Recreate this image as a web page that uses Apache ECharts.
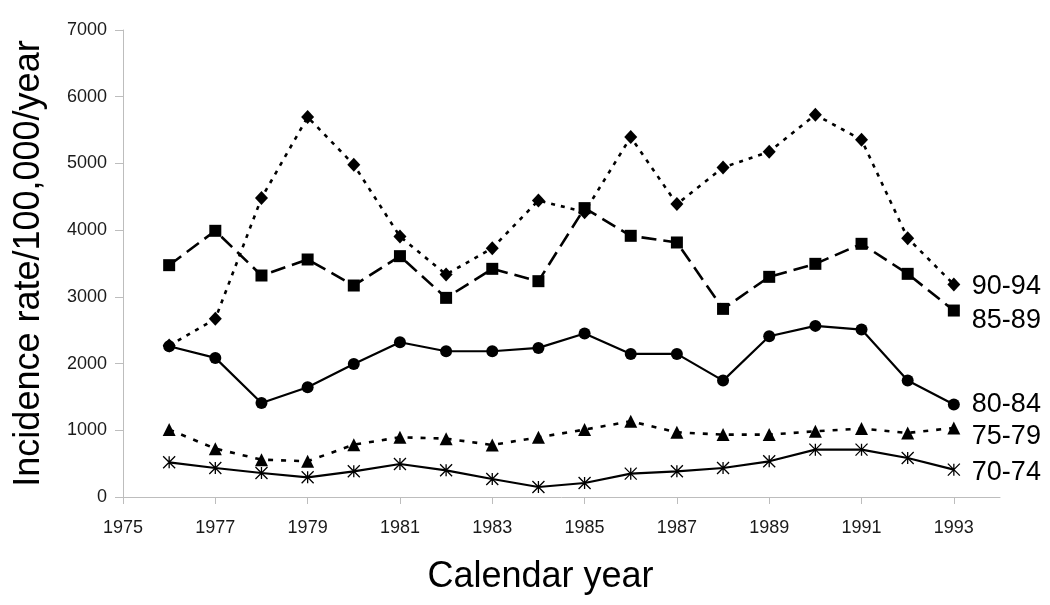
<!DOCTYPE html>
<html>
<head>
<meta charset="utf-8">
<script src="https://cdn.jsdelivr.net/npm/echarts@6/dist/echarts.min.js"></script>
<style>
  html, body { margin: 0; padding: 0; background: #fff; }
  #chart { width: 1050px; height: 605px; }
</style>
</head>
<body>
<div id="chart"></div>
<script>
const years = [1976, 1977, 1978, 1979, 1980, 1981, 1982, 1983, 1984, 1985, 1986, 1987, 1988, 1989, 1990, 1991, 1992, 1993];
const tickYears = [1975, 1977, 1979, 1981, 1983, 1985, 1987, 1989, 1991, 1993];
const rate9094 = [2270, 2670, 4480, 5695, 4980, 3905, 3335, 3730, 4445, 4270, 5395, 4390, 4940, 5175, 5730, 5355, 3880, 3185];
const rate8589 = [3475, 3990, 3320, 3560, 3170, 3610, 2985, 3420, 3235, 4330, 3915, 3815, 2820, 3300, 3495, 3795, 3345, 2795];
const rate8084 = [2260, 2085, 1410, 1645, 1995, 2320, 2185, 2185, 2235, 2450, 2145, 2145, 1745, 2410, 2565, 2510, 1745, 1385];
const rate7579 = [1010, 725, 560, 535, 785, 895, 875, 780, 895, 1010, 1135, 970, 935, 935, 985, 1025, 960, 1035];
const rate7074 = [520, 435, 360, 295, 385, 495, 400, 270, 150, 210, 350, 385, 435, 535, 710, 710, 585, 410];

const FONT = '"Liberation Sans", Arial, Helvetica, sans-serif';
const pairs = arr => years.map((y, i) => [y, arr[i]]);

function mkSeries(name, values, symbol, size, lineType, width, labelDy, itemStyle) {
  return {
    name: name,
    type: 'line',
    data: pairs(values),
    symbol: symbol,
    symbolSize: size,
    showAllSymbol: true,
    lineStyle: { color: '#000', width: width, type: lineType, cap: 'butt' },
    itemStyle: itemStyle || { color: '#000' },
    emphasis: { disabled: true },
    endLabel: {
      show: true,
      formatter: name,
      color: '#000',
      fontFamily: FONT,
      fontSize: 27,
      distance: 18,
      offset: [0, labelDy]
    }
  };
}

const chart = echarts.init(document.getElementById('chart'), null, { renderer: 'canvas' });
chart.setOption({
  animation: false,
  backgroundColor: '#fff',
  grid: { left: 123, right: 50, top: 30, bottom: 108, containLabel: false },
  xAxis: {
    type: 'value',
    min: 1975,
    max: 1994,
    name: 'Calendar year',
    nameLocation: 'middle',
    nameGap: 62,
    nameTextStyle: { fontFamily: FONT, fontSize: 36, color: '#000', padding: [0, 42, 0, 0] },
    splitLine: { show: false },
    axisLine: { show: true, lineStyle: { color: '#bdbdbd', width: 1 } },
    axisTick: { show: true, length: 7, lineStyle: { color: '#bdbdbd' }, customValues: tickYears },
    axisLabel: { fontFamily: FONT, fontSize: 18, color: '#1a1a1a', margin: 22, customValues: tickYears,
      formatter: v => String(v) }
  },
  yAxis: {
    type: 'value',
    min: 0,
    max: 7000,
    interval: 1000,
    name: 'Incidence rate/100,000/year',
    nameLocation: 'middle',
    nameGap: 76,
    nameTextStyle: { fontFamily: FONT, fontSize: 36, color: '#000' },
    splitLine: { show: false },
    axisLine: { show: true, lineStyle: { color: '#bdbdbd', width: 1 } },
    axisTick: { show: true, length: 8, lineStyle: { color: '#bdbdbd' } },
    axisLabel: { fontFamily: FONT, fontSize: 18, color: '#1a1a1a', margin: 16, formatter: v => String(v) }
  },
  series: [
    mkSeries('90-94', rate9094, 'diamond', [13, 14], [4, 6], 2.6, 2),
    mkSeries('85-89', rate8589, 'rect', 12, [15, 7], 2.6, 10),
    mkSeries('80-84', rate8084, 'circle', 12, 'solid', 2.2, 0),
    mkSeries('75-79', rate7579, 'triangle', 13, [5, 8], 2.6, 9),
    mkSeries('70-74', rate7074, 'path://M0,0L12,12M12,0L0,12M6,0L6,12', 12, 'solid', 2.2, 3,
      { color: 'rgba(0,0,0,0)', borderColor: '#000', borderWidth: 1.3 })
  ]
});
</script>
</body>
</html>
